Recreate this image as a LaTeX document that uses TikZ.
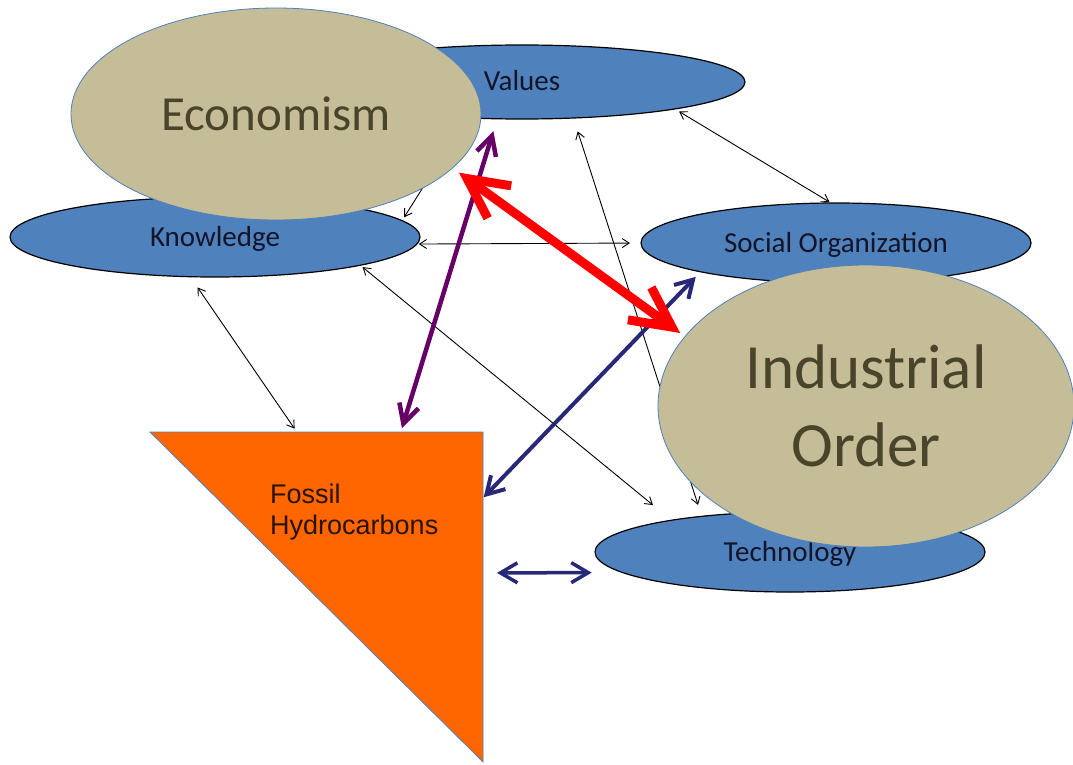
\documentclass[tikz,border=0pt]{standalone}
\usepackage{fontspec}
\setmainfont{Carlito}
\newfontfamily\arialf{Liberation Sans}
\usetikzlibrary{arrows.meta,calc,shapes.geometric}
\definecolor{bluefill}{RGB}{79,129,189}
\definecolor{tanfill}{RGB}{196,189,151}
\definecolor{tantext}{RGB}{74,69,42}
\definecolor{orangefill}{RGB}{255,102,0}
\definecolor{purplearrow}{RGB}{102,0,102}
\definecolor{navyarrow}{RGB}{40,40,120}
\definecolor{darktext}{RGB}{20,20,40}
\definecolor{fossiltext}{RGB}{40,20,0}
\begin{document}
\begin{tikzpicture}[x=1pt,y=-1pt,
  blueell/.style={ellipse, draw=black, line width=1.2pt, fill=bluefill, inner sep=0pt, outer sep=0pt,
    text=darktext, text height=18pt, text depth=0pt, font=\fontsize{29}{34}\selectfont},
  tanell/.style={ellipse, draw=bluefill, line width=0.8pt, fill=tanfill, inner sep=0pt, outer sep=0pt,
    text=tantext, align=center},
  thinarrow/.style={draw=black, line width=0.9pt,
    {Straight Barb[length=7pt,width=9pt]}-{Straight Barb[length=7pt,width=9pt]}},
  redarrow/.style={draw=red, line width=9pt,
    {Straight Barb[length=40pt,width=40pt]}-{Straight Barb[length=40pt,width=40pt]}},
  purplearr/.style={draw=purplearrow, line width=4.5pt,
    {Straight Barb[length=19pt,width=20pt]}-{Straight Barb[length=19pt,width=20pt]}},
  navyarr/.style={draw=navyarrow, line width=4pt,
    {Straight Barb[length=17pt,width=20pt]}-{Straight Barb[length=17pt,width=20pt]}},
  fossiltxt/.style={anchor=base west, inner sep=0pt, text=fossiltext, font=\arialf\fontsize{27}{31}\selectfont}
]
\useasboundingbox (0,0) rectangle (1073,765);
\fill[white] (0,0) rectangle (1073,765);

% blue ellipses
\node[blueell, minimum width=446pt, minimum height=74pt] (values) at (522,82) {Values};
\node[blueell, minimum width=410pt, minimum height=80pt] (knowledge) at (215,237) {Knowledge};
\node[blueell, minimum width=390pt, minimum height=80pt] (social) at (836,243) {Social Organization};
\node[blueell, minimum width=390pt, minimum height=80pt] (technology) at (790,552) {Technology};

% fossil triangle
\coordinate (ftl) at (150,432);
\coordinate (ftr) at (483,432);
\coordinate (fbr) at (483,762);
\filldraw[fill=orangefill, draw=bluefill, line width=0.8pt] (ftl) -- (ftr) -- (fbr) -- cycle;
\node[fossiltxt] (fossil1) at (270,503) {Fossil};
\node[fossiltxt] (fossil2) at (270,534) {Hydrocarbons};
\coordinate (fk) at ($(ftl)!0.441!(ftr)$);
\coordinate (fp) at ($(ftl)!0.753!(ftr)$);
\coordinate (fs) at ($(ftr)!0.2!(fbr)$);
\coordinate (ft) at ($(ftr)!0.427!(fbr)$);

% thin arrows
\draw[thinarrow, shorten <=5pt, shorten >=2pt] (values.-10) -- (social.97);
\draw[thinarrow, shorten <=2pt, shorten >=11pt] (knowledge.-2) -- (social.180);
\draw[thinarrow, shorten <=14pt, shorten >=12pt] (values.-35) -- (technology.158.6);
\draw[thinarrow, shorten <=3pt, shorten >=24pt] (knowledge.-11) -- (technology.165);
\draw[thinarrow, shorten <=13pt, shorten >=4pt] (knowledge.-122) -- (fk);
\draw[thinarrow, shorten >=4pt] (values.-147) -- (knowledge.5);

% coloured arrows
\draw[purplearr, shorten <=13pt, shorten >=4pt] (values.-124) -- (fp);
\draw[navyarr, shorten <=7pt, shorten >=1pt] (social.192) -- (fs);
\draw[navyarr, line width=3.5pt, shorten <=14pt, shorten >=31pt] (ft) -- (technology.187.2);

% tan ellipses
\node[tanell, minimum width=410pt, minimum height=212pt, font=\fontsize{49}{55}\selectfont] (economism) at (276,114) {Economism};
\node[tanell, minimum width=416pt, minimum height=282pt, font=\fontsize{63}{80}\selectfont] (industrial) at (866,406) {Industrial\\[-2pt]Order};

% red arrow
\draw[redarrow, shorten <=8pt, shorten >=6pt] (economism.-17.4) -- (industrial.159.7);
\end{tikzpicture}
\end{document}
